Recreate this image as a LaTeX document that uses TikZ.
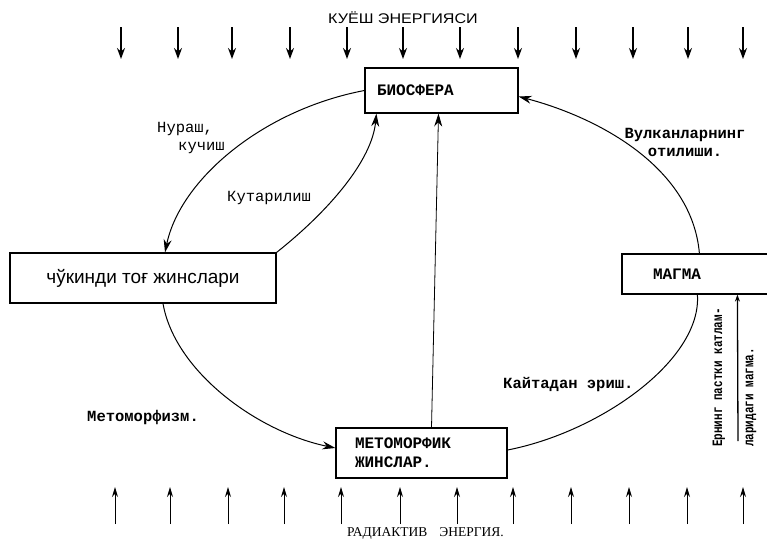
\documentclass[tikz,border=0pt]{standalone}
\usepackage{fontspec}
\usepackage{graphicx}
\setmainfont{Liberation Serif}
\newfontfamily\monofnt{Liberation Mono}
\newfontfamily\sansfnt{Liberation Sans}
\usetikzlibrary{arrows.meta,calc}
\begin{document}
\begin{tikzpicture}[x=1pt,y=-1pt,
  box/.style={draw, line width=1.2pt, inner ysep=0pt},
  conn/.style={line width=1pt, -{Stealth[length=13pt,width=8pt]}},
  plainconn/.style={line width=1pt},
  sunarrow/.style={line width=1.4pt, -{Stealth[length=11pt,width=8pt]}},
  radarrow/.style={line width=1pt, -{Stealth[length=10pt,width=6pt]}},
  lbl/.style={font=\monofnt\fontsize{15.5}{18}\selectfont, inner sep=0pt},
  blbl/.style={font=\monofnt\bfseries\fontsize{15.5}{18}\selectfont, inner sep=0pt},
  boxfont/.style={font=\monofnt\bfseries\fontsize{16}{19}\selectfont},
  sidefont/.style={font=\monofnt\bfseries\fontsize{11}{13}\selectfont, inner sep=0pt, rotate=90, anchor=west}
]
\useasboundingbox (0,0) rectangle (767,544);
\clip (0,0) rectangle (767,544);

% boxes
\node[box, boxfont, text width=129pt, inner xsep=12pt, minimum height=45pt, align=left] (bio) at (441.5,90.5) {БИОСФЕРА};
\node[box, font=\sansfnt\fontsize{19}{22}\selectfont, minimum width=266pt, minimum height=50pt] (sed) at (143,278) {чўкинди тоғ жинслари};
\node[box, boxfont, text width=96pt, inner xsep=31pt, minimum height=40pt, align=left] (magma) at (701,274) {МАГМА};
\node[box, boxfont, text width=133pt, inner xsep=19pt, minimum height=50pt, align=left] (meta) at (421.5,453) {МЕТОМОРФИК\\ЖИНСЛАР.};

% sun energy
\node[font=\sansfnt\fontsize{14}{16}\selectfont, inner sep=0pt] (sun) at (403,18) {\scalebox{1.15}[1]{КУЁШ ЭНЕРГИЯСИ}};
\foreach \x in {121,178,232,290,347,403,460,518,576,633,688,743}
  \draw[sunarrow] (\x,27) -- (\x,59);

% radioactive energy
\node[font=\fontsize{13.5}{16}\selectfont, inner sep=0pt, anchor=west] (rad) at (347,533) {РАДИАКТИВ\hspace{12pt}ЭНЕРГИЯ.};
\foreach \x in {115,170,228,284,341,400,457,513,571,629,687,743}
  \draw[radarrow] (\x,524) -- (\x,487);

% connectors
\draw[conn] (bio.west) .. controls (262,110) and (180,180) .. ($(sed.north)+(22,0)$);
\draw[conn] (sed.north east) .. controls (330,210) and (372,160) .. ($(bio.south west)+(12,0)$);
\draw[conn] ($(sed.south)+(20,0)$) .. controls (175,372) and (258,432) .. ($(meta.west)+(0,-5)$);
\draw[plainconn] ($(meta.east)+(0,-3)$) .. controls (600,432) and (702,360) .. ($(magma.south west)+(76,0)$);
\draw[conn] ($(magma.north west)+(78,0)$) .. controls (692,168) and (600,118) .. ($(bio.east)+(0,6)$);
\draw[conn, line width=0.8pt] ($(meta.north)+(10,0)$) -- ($(bio.south)+(-3,0)$);
\coordinate (deep) at (738,441);
\draw[line width=1.3pt, -{Stealth[length=7pt,width=5pt]}] (deep) -- ($(magma.south west)+(116,0)$);

% labels
\node[lbl, anchor=west, align=left] (l1) at (157,138) {Нураш,\\\hspace{21pt}кучиш};
\node[lbl, anchor=west] (l2) at (227,198) {Кутарилиш};
\node[blbl, align=center] (l3) at (685,142) {Вулканларнинг\\отилиши.};
\node[blbl, anchor=west] (l4) at (503,385) {Кайтадан эриш.};
\node[blbl, anchor=west] (l5) at (87,417) {Метоморфизм.};
\node[sidefont] (l6) at (719,447) {\scalebox{1}[1.3]{Ернинг пастки катлам-}};
\node[sidefont] (l7) at (751,447) {\scalebox{1}[1.3]{ларидаги магма.}};
\end{tikzpicture}
\end{document}
